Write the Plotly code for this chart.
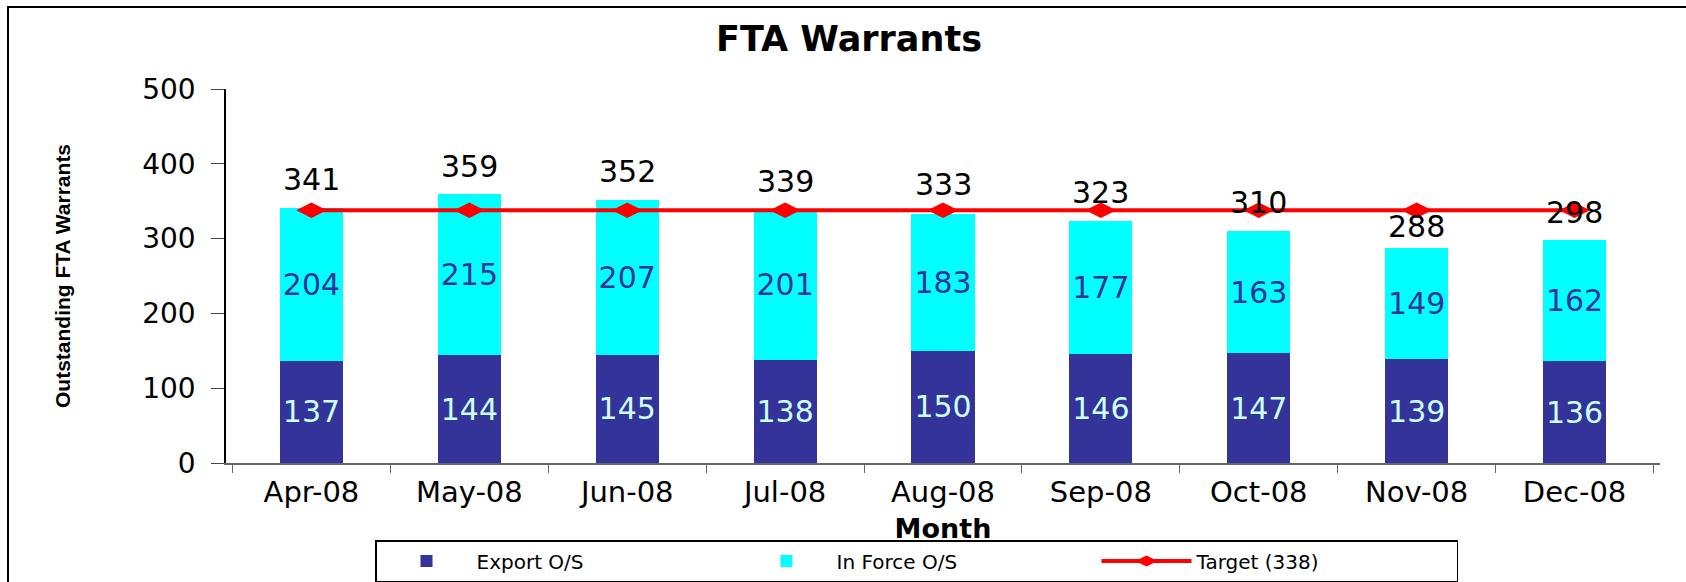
import plotly.graph_objects as go

months = ["Apr-08", "May-08", "Jun-08", "Jul-08", "Aug-08", "Sep-08", "Oct-08", "Nov-08", "Dec-08"]
export_os = [137, 144, 145, 138, 150, 146, 147, 139, 136]
in_force_os = [204, 215, 207, 201, 183, 177, 163, 149, 162]
target = [338, 338, 338, 338, 338, 338, 338, 338, 338]
totals = [e + f for e, f in zip(export_os, in_force_os)]

# label vertical offsets (px) above each bar total
label_shift = [28, 28, 28, 28, 29, 29, 29, 21, 28]

W, H = 1686, 582
PL, PR, PT, PB = 226, 1660, 89, 463
ML, MR, MT, MB = PL, W - PR, PT, H - PB
PW, PH = PR - PL, PB - PT

FONT = "DejaVu Sans"

fig = go.Figure()
fig.add_trace(go.Bar(
    x=months, y=export_os, name="Export O/S",
    marker=dict(color="#333399", line=dict(width=0)),
    text=[str(v) for v in export_os], textposition="inside", textangle=0,
    insidetextanchor="middle", constraintext="none",
    textfont=dict(family=FONT, size=30, color="#CCFFFF"),
))
fig.add_trace(go.Bar(
    x=months, y=in_force_os, name="In Force O/S",
    marker=dict(color="#00FFFF", line=dict(width=0)),
    text=[str(v) for v in in_force_os], textposition="inside", textangle=0,
    insidetextanchor="middle", constraintext="none",
    textfont=dict(family=FONT, size=30, color="#333399"),
))
fig.add_trace(go.Scatter(
    x=months, y=target, name="Target (338)", mode="lines+markers",
    line=dict(color="#FF0000", width=4),
    marker=dict(symbol="diamond-wide", size=22, color="#FF0000"),
))

for m, t, s in zip(months, totals, label_shift):
    fig.add_annotation(x=m, y=t, text=str(t), showarrow=False, yshift=s,
                       font=dict(family=FONT, size=30, color="black"))

# y-axis title as rotated annotation
fig.add_annotation(xref="paper", yref="paper", x=(62 - PL) / PW, y=0.5,
                   text="<b>Outstanding FTA Warrants</b>", textangle=-90,
                   showarrow=False, xanchor="center", yanchor="middle",
                   font=dict(family="Liberation Sans", size=21, color="black"))

# outer chart border (left and top edges visible)
fig.add_shape(type="rect", xref="paper", yref="paper",
              x0=(8 - PL) / PW, x1=1.2, y0=-0.6, y1=1 + (PT - 7) / PH,
              line=dict(color="black", width=2), layer="below")

fig.update_layout(
    width=W, height=H,
    margin=dict(l=ML, r=MR, t=MT, b=MB, autoexpand=False),
    barmode="stack", bargap=0.6,
    plot_bgcolor="white", paper_bgcolor="white",
    title=dict(text="<b>FTA Warrants</b>", x=849 / W, xanchor="center",
               y=1 - 39 / H, yanchor="middle",
               font=dict(family=FONT, size=35, color="black")),
    xaxis=dict(
        title=dict(text="<b>Month</b>", font=dict(family=FONT, size=27, color="black"), standoff=12),
        tickfont=dict(family=FONT, size=29, color="black"),
        showline=True, linecolor="#666666", linewidth=1.5,
        ticks="outside", ticklen=8, tickcolor="#666666", tickson="boundaries",
        ticklabelstandoff=2,
        showgrid=False, automargin=False,
    ),
    yaxis=dict(
        range=[0, 500], dtick=100,
        tickfont=dict(family=FONT, size=28, color="black"),
        showline=True, linecolor="black", linewidth=1.5,
        ticks="outside", ticklen=13, tickcolor="#444444",
        ticklabelstandoff=10,
        showgrid=False, zeroline=False, automargin=False,
    ),
    legend=dict(orientation="h", x=(375 - PL) / PW, xanchor="left", y=(PB - 540) / PH,
                yanchor="top", bordercolor="black", borderwidth=1.5,
                font=dict(family=FONT, size=20, color="black"),
                itemwidth=90, entrywidth=255, traceorder="normal"),
    showlegend=True,
)

fig.write_html("out.html", config={"displayModeBar": False},
               post_script="document.body.style.margin='0';")
